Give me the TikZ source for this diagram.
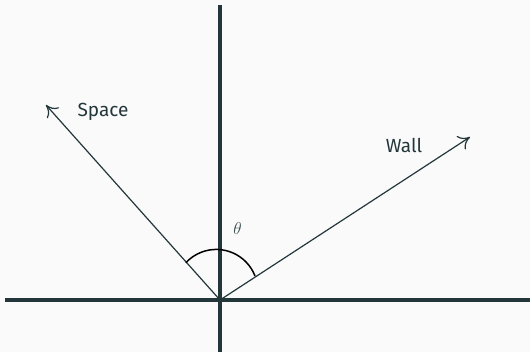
\documentclass[tikz,border=0pt]{standalone}
\usepackage{fontspec}
\setsansfont{Fira Sans}
\usetikzlibrary{arrows.meta}
\definecolor{mDarkTeal}{HTML}{23373B}
\definecolor{mBg}{HTML}{FAFAFA}
\begin{document}
\begin{tikzpicture}[x=1pt,y=-1pt,
  axis/.style={draw=mDarkTeal,line width=3.6pt},
  vec/.style={draw=mDarkTeal,line width=1.2pt,-{Computer Modern Rightarrow[length=11pt,width=16pt]}},
  lbl/.style={text=mDarkTeal,font=\sffamily\fontsize{19}{22}\selectfont,inner sep=0pt},
  anglearc/.style={draw=black,line width=1.5pt}]
\fill[mBg] (0,0) rectangle (530,352);
\useasboundingbox (0,0) rectangle (530,352);
\coordinate (O) at (220,300);
\coordinate (L) at (5,300);
\coordinate (R) at (530,300);
\coordinate (T) at (220,5);
\coordinate (B) at (220,352);
\coordinate (S) at (46,105);
\coordinate (W) at (470,137);
\draw[axis] (L) -- (R);
\draw[axis] (T) -- (B);
\draw[vec] (O) -- (S);
\draw[vec] (O) -- (W);
\draw[anglearc] (255,276) arc[start angle=-21.1, end angle=-137.1, radius=41.5];
\node[lbl] (space) at (103,112) {Space};
\node[lbl] (wall) at (404,145) {Wall};
\node[text=mDarkTeal!90,font=\fontsize{18}{20}\selectfont,inner sep=0pt] (theta) at (237.5,229) {$\theta$};
\end{tikzpicture}
\end{document}
